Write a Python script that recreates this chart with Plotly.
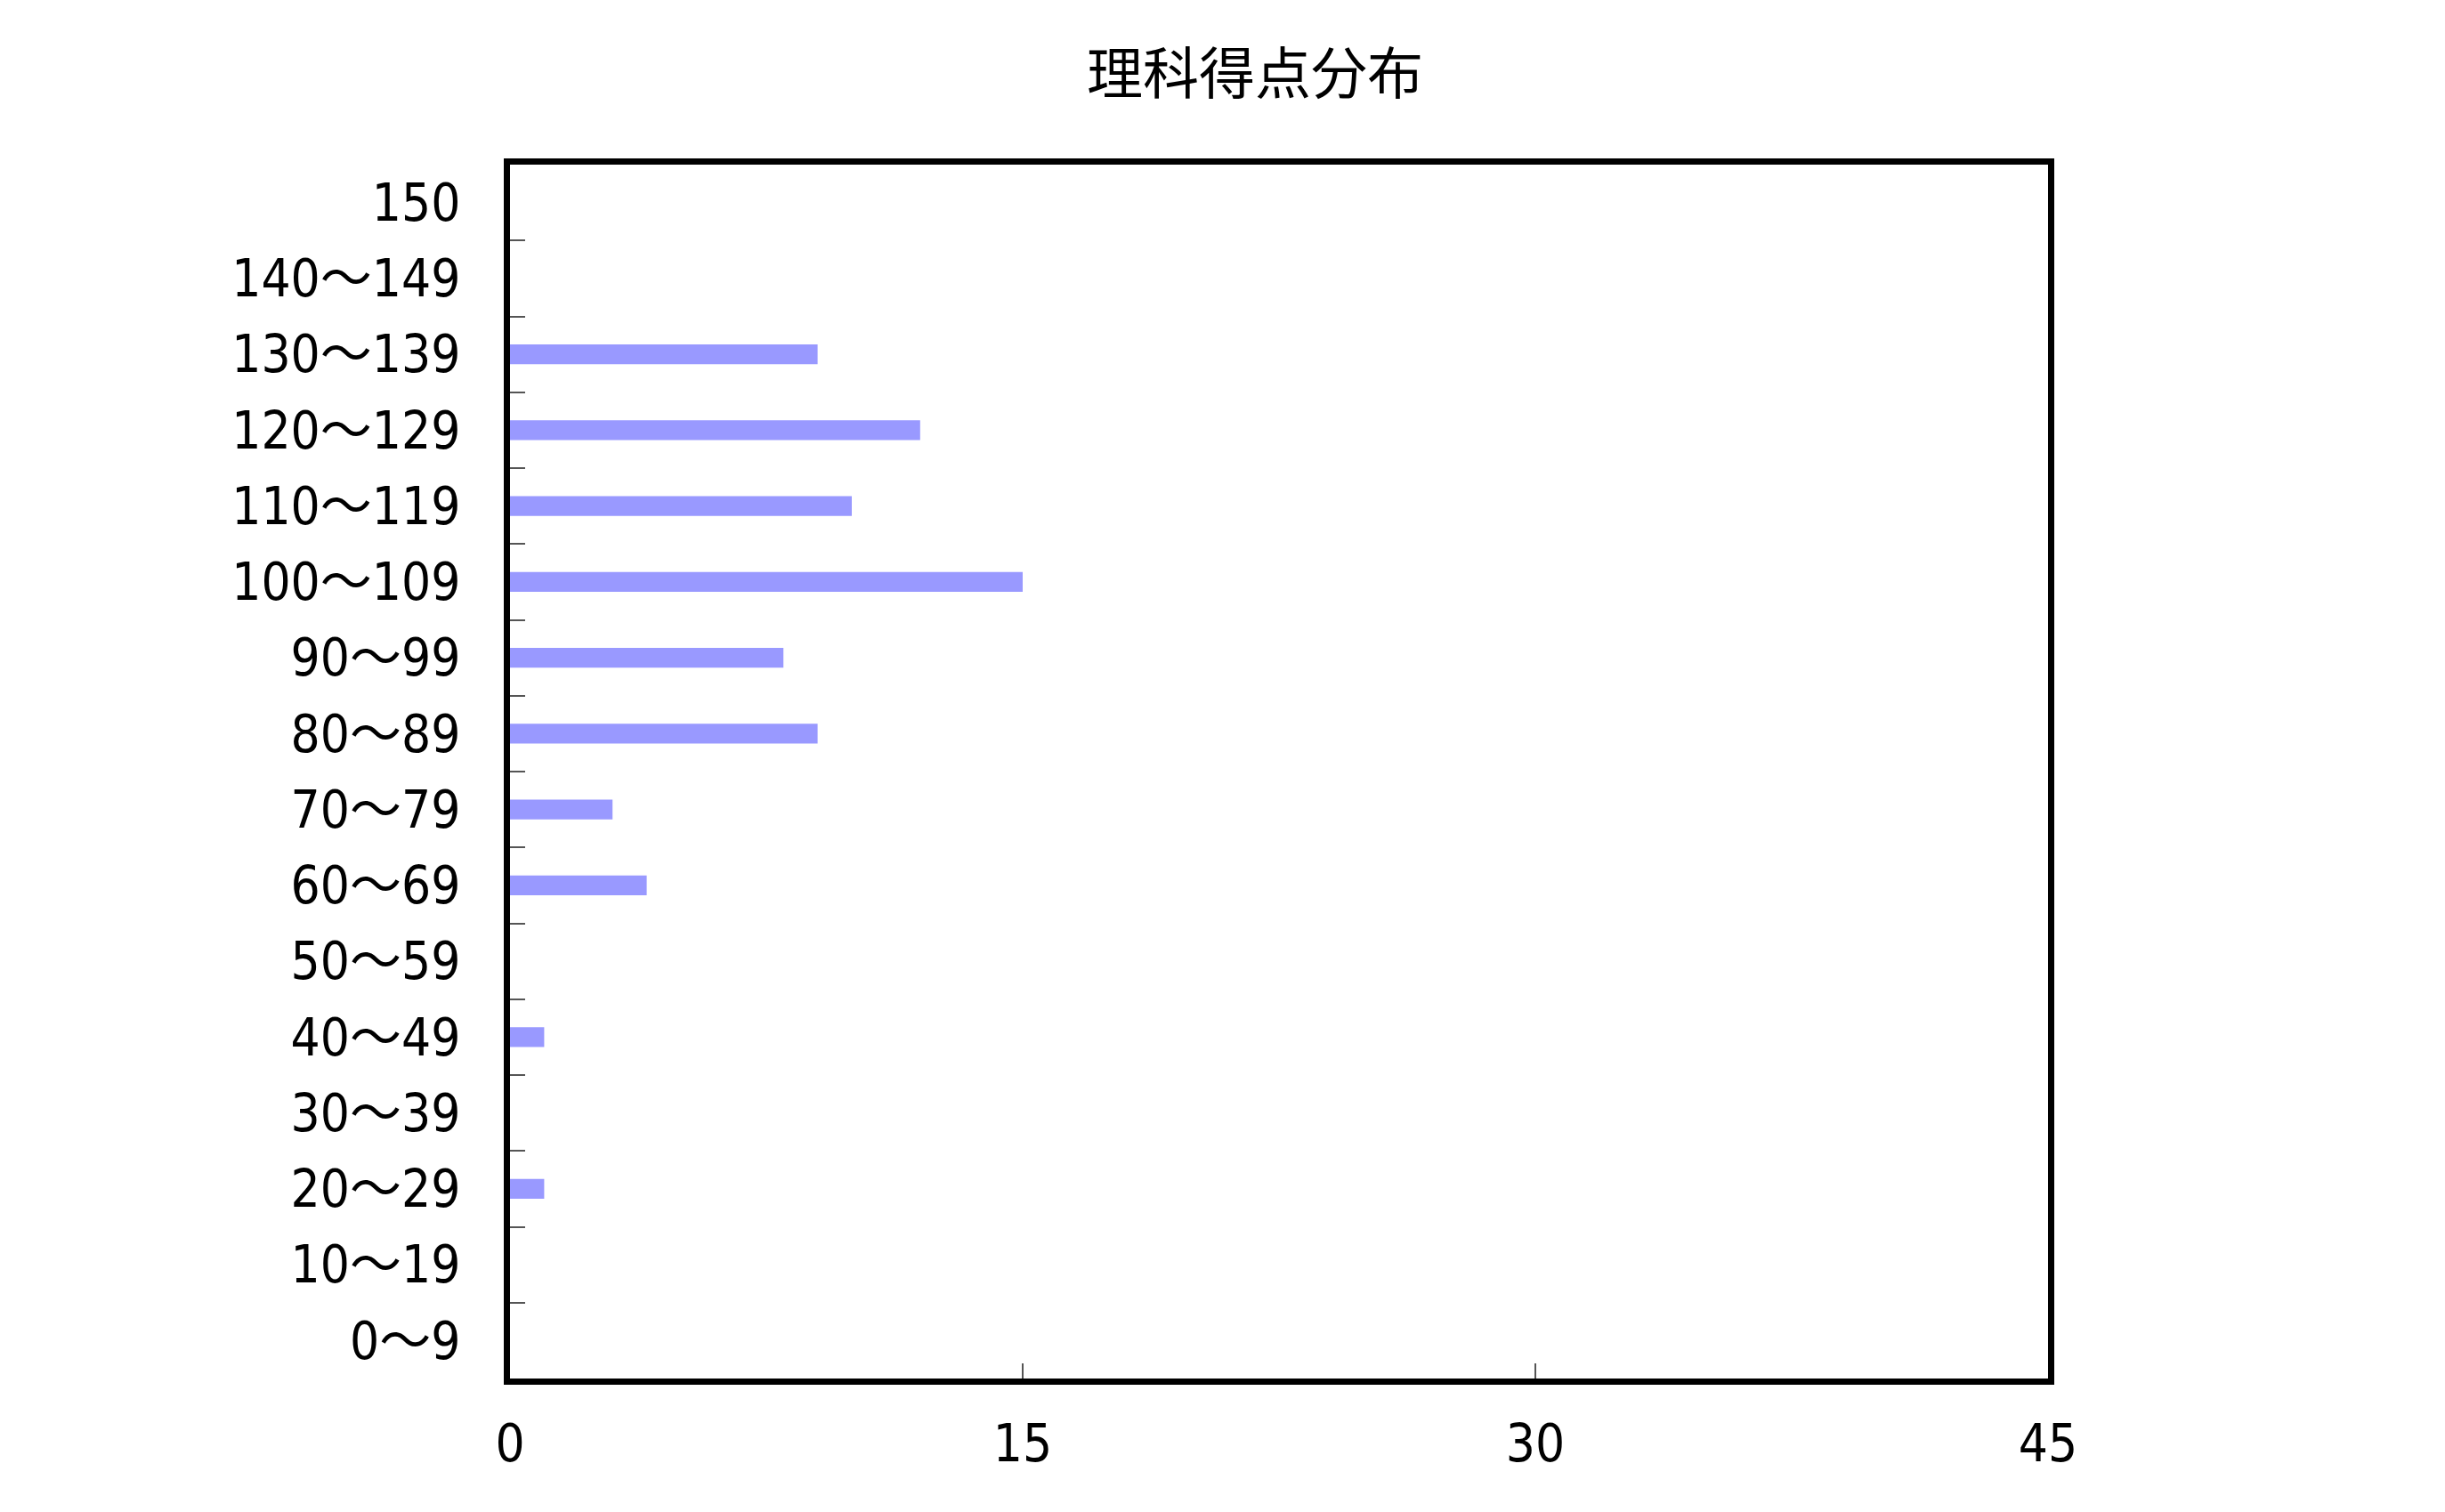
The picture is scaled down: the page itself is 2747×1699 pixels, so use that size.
import plotly.graph_objects as go

# score ranges (bottom to top) and number of students
ranges = ["0～9", "10～19", "20～29", "30～39", "40～49", "50～59", "60～69",
          "70～79", "80～89", "90～99", "100～109", "110～119", "120～129",
          "130～139", "140～149", "150"]
counts = [0, 0, 1, 0, 1, 0, 4, 3, 9, 8, 15, 10, 12, 9, 0, 0]

x_ticks = [0, 15, 30, 45]

label_font = dict(family="DejaVu Sans Condensed, Noto Sans CJK JP", size=58, color="black")

fig = go.Figure()
fig.add_trace(go.Bar(x=counts, y=ranges, orientation="h",
                     marker=dict(color="#9999ff", line=dict(width=0))))

fig.update_layout(
    width=2747, height=1699,
    margin=dict(l=565, r=454, t=177, b=158),
    paper_bgcolor="white", plot_bgcolor="white",
    bargap=0.74,
    showlegend=False,
    title=dict(text="理科得点分布", x=0.5104, xanchor="center", y=0.956, yanchor="middle",
               font=dict(family="Noto Sans CJK JP", size=63, color="black")),
)

fig.update_xaxes(range=[0, 45], tickvals=x_ticks, showgrid=False, zeroline=False,
                 ticks="inside", ticklen=17, tickwidth=1.5, tickcolor="#555555",
                 showline=True, linecolor="black", linewidth=7, mirror=True,
                 tickfont=label_font, ticklabelstandoff=16)
fig.update_yaxes(type="category", categoryorder="array", categoryarray=ranges,
                 showgrid=False, zeroline=False, tickson="boundaries",
                 ticks="inside", ticklen=17, tickwidth=1.5, tickcolor="#555555",
                 showline=True, linecolor="black", linewidth=7, mirror=True,
                 tickfont=label_font, ticklabelstandoff=37)

fig.write_html("out.html")
